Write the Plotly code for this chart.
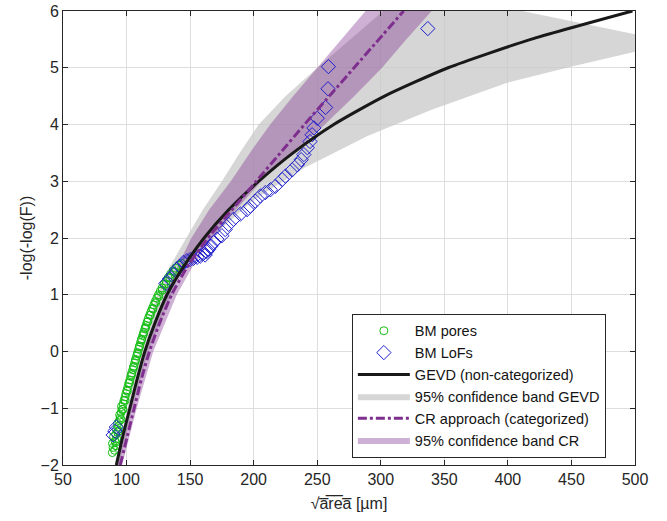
import plotly.graph_objects as go

# ---- empirical points --------------------------------------------------
pores_x = [88.8, 90.6, 89.4, 91.8, 88.9, 90.9, 92.3, 89.8, 91.5, 93.0, 92.2, 93.6, 92.9, 94.3,
           95.0, 94.6, 95.8, 96.5, 96.0, 97.4, 98.0, 98.9, 99.5, 100.3, 101.1, 101.7, 102.6,
           103.3, 104.0, 104.9, 105.6, 106.4, 107.1, 107.9, 108.7, 109.5, 110.2, 111.0, 111.8,
           112.7, 113.5, 114.4, 115.3, 116.2, 117.1, 118.1, 119.2, 120.3, 121.4, 122.6, 123.8,
           125.1, 126.5, 127.9, 129.4, 131.0, 132.7, 134.5, 136.5, 138.6, 141.0, 143.5,
           91.5, 93.8, 95.6, 97.2, 98.9, 100.6, 102.3, 103.9, 105.5, 107.0, 108.6, 110.1,
           111.7, 113.3, 115.0, 116.8, 118.7, 120.8, 123.0, 125.4, 128.0, 130.9, 134.0, 137.5]
pores_y = [-1.78, -1.74, -1.69, -1.66, -1.62, -1.58, -1.54, -1.50, -1.46, -1.42, -1.37, -1.32,
           -1.27, -1.22, -1.17, -1.12, -1.07, -1.02, -0.97, -0.92, -0.86, -0.80, -0.74, -0.68,
           -0.62, -0.56, -0.50, -0.44, -0.38, -0.32, -0.26, -0.20, -0.14, -0.08, -0.02, 0.04,
           0.10, 0.16, 0.22, 0.28, 0.34, 0.40, 0.46, 0.52, 0.58, 0.64, 0.70, 0.76, 0.82, 0.88,
           0.94, 1.00, 1.06, 1.12, 1.18, 1.24, 1.30, 1.36, 1.42, 1.47, 1.52, 1.55,
           -1.60, -1.40, -1.20, -1.02, -0.86, -0.70, -0.55, -0.41, -0.28, -0.16, -0.04, 0.08,
           0.20, 0.31, 0.42, 0.53, 0.64, 0.75, 0.86, 0.97, 1.08, 1.19, 1.30, 1.40]

lofs_x = [89.5, 90.8, 92.0, 131.0, 134.0, 137.0, 139.5, 142.0, 144.7, 147.5, 150.0, 152.6,
          155.5, 158.0, 160.0, 161.8, 163.0, 164.5, 166.5, 168.4, 171.1, 175.0, 177.6, 180.3,
          184.2, 189.5, 194.8, 197.4, 201.3, 205.3, 209.2, 213.2, 217.1, 222.4, 225.0, 230.3,
          234.3, 237.4, 239.5, 242.2, 244.3, 246.0, 247.4, 250.0, 256.6, 258.5, 258.8, 337.0]
lofs_y = [-1.47, -1.40, -1.33, 1.20, 1.28, 1.36, 1.45, 1.50, 1.57, 1.60, 1.62, 1.64, 1.66,
          1.68, 1.72, 1.70, 1.76, 1.80, 1.86, 1.92, 1.98, 2.04, 2.15, 2.24, 2.33, 2.42, 2.50,
          2.56, 2.65, 2.74, 2.80, 2.85, 2.91, 3.03, 3.09, 3.20, 3.29, 3.38, 3.47, 3.59, 3.70,
          3.82, 3.94, 4.11, 4.30, 4.63, 5.02, 5.69]

# ---- fitted curves (reduced variate levels) -----------------------------
levels = [-2, -1.5, -1, -0.5, 0, 0.5, 1, 1.5, 2, 2.5, 3, 3.5, 4, 4.5, 5, 5.5, 6]
gevd_x = [92.0, 97.0, 102.6, 108.2, 114.4, 122.3, 131.8, 145.0, 161.0, 180.5, 204.0, 231.0,
          263.0, 303.0, 353.0, 418.0, 498.0]
cr_x = [95.0, 100.5, 106.0, 111.5, 118.0, 126.0, 135.5, 148.0, 164.0, 183.0, 202.0, 221.0,
        240.0, 259.5, 279.0, 298.5, 318.0]

# ---- confidence bands ---------------------------------------------------
gevd_up_x = [90.5, 100.5, 111.0, 124.0, 134.0, 147.0, 160.0, 175.0, 189.0, 204.0, 225.0,
             250.0, 276.0, 302.0, 325.0]
gevd_up_y = [-2.0, -1.0, 0.0, 1.0, 1.5, 2.0, 2.5, 3.0, 3.5, 4.0, 4.5, 5.0, 5.5, 6.0, 6.4]
gevd_lo_x = [94.0, 104.5, 117.0, 135.5, 140.0, 165.0, 200.0, 240.0, 290.0, 340.0, 400.0,
             452.0, 500.0, 530.0]
gevd_lo_y = [-2.0, -1.0, 0.0, 1.0, 1.3, 1.98, 2.67, 3.24, 3.80, 4.26, 4.74, 5.03, 5.28, 5.45]

band_levels = [-2, -1, 0, 1, 1.5, 2, 2.5, 3, 3.5, 4, 4.5, 5, 5.5, 6, 6.4]
cr_left_x = [93.0, 103.5, 115.5, 130.0, 140.0, 151.0, 165.0, 182.0, 197.0, 213.0, 231.0,
             250.0, 269.0, 288.0, 302.0]
cr_right_x = [96.5, 108.0, 121.0, 139.5, 152.0, 168.0, 186.0, 206.0, 230.0, 256.0, 279.0,
              301.0, 320.0, 340.0, 355.0]

x_ticks = [50, 100, 150, 200, 250, 300, 350, 400, 450, 500]
y_ticks = [-2, -1, 0, 1, 2, 3, 4, 5, 6]

FONT = "Liberation Sans, Arial, sans-serif"
PURPLE = "rgb(126,47,142)"
INK = "rgb(38,38,38)"

fig = go.Figure()

# GEVD band (polygon: upper edge then lower edge reversed)
fig.add_trace(go.Scatter(
    x=gevd_up_x + gevd_lo_x[::-1], y=gevd_up_y + gevd_lo_y[::-1],
    fill="toself", fillcolor="rgba(200,200,200,0.75)", line=dict(width=0),
    mode="lines", name="95% confidence band GEVD", legendrank=4, hoverinfo="skip"))

# CR band
fig.add_trace(go.Scatter(
    x=cr_left_x + cr_right_x[::-1], y=band_levels + band_levels[::-1],
    fill="toself", fillcolor="rgba(126,47,142,0.38)", line=dict(width=0),
    mode="lines", name="95% confidence band CR", legendrank=6, hoverinfo="skip"))

fig.add_trace(go.Scatter(
    x=pores_x, y=pores_y, mode="markers", name="BM pores", legendrank=1,
    marker=dict(symbol="circle-open", size=8, color="rgb(20,190,20)", line=dict(width=1))))

fig.add_trace(go.Scatter(
    x=lofs_x, y=lofs_y, mode="markers", name="BM LoFs", legendrank=2,
    marker=dict(symbol="diamond-open", size=11, color="rgb(30,30,205)", line=dict(width=1))))

fig.add_trace(go.Scatter(
    x=gevd_x, y=levels, mode="lines", name="GEVD (non-categorized)", legendrank=3,
    line=dict(color="rgb(25,25,25)", width=3, shape="spline", smoothing=0.6)))

fig.add_trace(go.Scatter(
    x=cr_x, y=levels, mode="lines", name="CR approach (categorized)", legendrank=5,
    line=dict(color=PURPLE, width=3, dash="dashdot", shape="spline", smoothing=0.6)))

axis_common = dict(
    showgrid=True, gridcolor="rgb(222,222,222)", gridwidth=1,
    showline=True, linecolor=INK, linewidth=1, mirror="allticks",
    ticks="inside", ticklen=5, tickcolor=INK,
    tickfont=dict(family=FONT, size=16, color=INK),
    zeroline=False, automargin=False,
)

fig.update_layout(
    width=667, height=521,
    margin=dict(l=63, r=32, t=11, b=56),
    paper_bgcolor="white", plot_bgcolor="white",
    font=dict(family=FONT, color=INK),
    showlegend=True,
    legend=dict(
        x=0.505, y=0.333, xanchor="left", yanchor="top",
        bgcolor="white", bordercolor=INK, borderwidth=1,
        font=dict(family=FONT, size=14.5, color="rgb(20,20,20)"),
        tracegroupgap=0, itemwidth=52,
    ),
    xaxis=dict(
        range=[50, 500], tickvals=x_ticks,
        title=dict(text="√a\u0305r\u0305e\u0305a\u0305 [µm]",
                   font=dict(family=FONT, size=16), standoff=10),
        **axis_common),
    yaxis=dict(
        range=[-2, 6], tickvals=y_ticks,
        title=dict(text="-log(-log(F))", font=dict(family=FONT, size=16), standoff=3),
        **axis_common),
)

fig.write_html("out.html")
